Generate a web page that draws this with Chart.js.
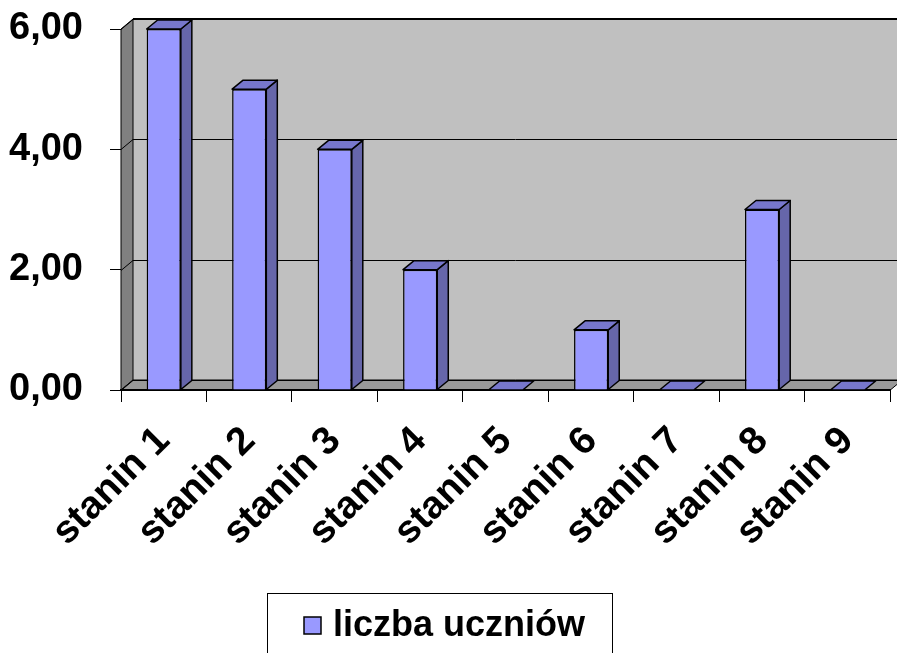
<!DOCTYPE html>
<html>
<head>
<meta charset="utf-8">
<script src="https://cdn.jsdelivr.net/npm/chart.js@4"></script>
<style>
  body { margin: 0; background: #fff; }
  canvas { display: block; }
</style>
</head>
<body>
<canvas id="chart_stanin" width="897" height="653"></canvas>
<script>
var categories = ['stanin 1', 'stanin 2', 'stanin 3', 'stanin 4', 'stanin 5', 'stanin 6', 'stanin 7', 'stanin 8', 'stanin 9'];
var liczbaUczniow = [6, 5, 4, 2, 0, 1, 0, 3, 0];
var seriesLabel = 'liczba uczniów';
var yMin = 0;
var yMax = 6;
var yStep = 2;

var FONT = '"Liberation Sans", Arial, sans-serif';
var DEPTH_X = 12, DEPTH_Y = -10;   // depth of walls
var BAR_DX = 11, BAR_DY = -9;      // depth of bars

// walls, floor and back grid lines (drawn before everything else)
var walls3d = {
	id: 'walls3d',
	beforeDraw: function (chart) {
		var ctx = chart.ctx;
		var a = chart.chartArea;
		var y = chart.scales.y;
		var L = a.left, R = a.right, T = a.top, B = a.bottom;

		ctx.save();
		ctx.fillStyle = '#fff';
		ctx.fillRect(0, 0, chart.width, chart.height);

		// back wall
		ctx.fillStyle = '#c0c0c0';
		ctx.fillRect(L + DEPTH_X, T + DEPTH_Y, R - L, B - T);
		ctx.strokeStyle = '#000';
		ctx.lineWidth = 1;

		// left side wall
		ctx.beginPath();
		ctx.moveTo(L, T);
		ctx.lineTo(L + DEPTH_X, T + DEPTH_Y);
		ctx.lineTo(L + DEPTH_X, B + DEPTH_Y);
		ctx.lineTo(L, B);
		ctx.closePath();
		ctx.fillStyle = '#808080';
		ctx.fill();
		ctx.stroke();

		// floor
		ctx.beginPath();
		ctx.moveTo(L, B);
		ctx.lineTo(L + DEPTH_X, B + DEPTH_Y);
		ctx.lineTo(R + DEPTH_X, B + DEPTH_Y);
		ctx.lineTo(R, B);
		ctx.closePath();
		ctx.fillStyle = '#999999';
		ctx.fill();
		ctx.stroke();

		// grid lines on the side wall and back wall
		ctx.beginPath();
		for (var v = yMin; v <= yMax; v += yStep) {
			var py = Math.round(y.getPixelForValue(v)) + 0.5;
			ctx.moveTo(L, py);
			ctx.lineTo(L + DEPTH_X, py + DEPTH_Y);
			ctx.lineTo(R + DEPTH_X, py + DEPTH_Y);
		}
		ctx.stroke();

		// top edge of back wall a bit heavier
		ctx.lineWidth = 2;
		ctx.beginPath();
		ctx.moveTo(L + DEPTH_X, T + DEPTH_Y);
		ctx.lineTo(R + DEPTH_X + 20, T + DEPTH_Y);
		ctx.stroke();
		ctx.restore();
	}
};

// top and side faces of each bar
var bars3d = {
	id: 'bars3d',
	afterDatasetsDraw: function (chart) {
		var ctx = chart.ctx;
		var meta = chart.getDatasetMeta(0);
		ctx.save();
		ctx.strokeStyle = '#000';
		ctx.lineWidth = 1.5;
		ctx.lineJoin = 'round';
		meta.data.forEach(function (bar) {
			var p = bar.getProps(['x', 'y', 'base', 'width'], true);
			var l = p.x - p.width / 2, r = p.x + p.width / 2;
			var top = p.y, base = p.base;

			if (base - top > 0.5) {
				ctx.beginPath();
				ctx.moveTo(r, top);
				ctx.lineTo(r + BAR_DX, top + BAR_DY);
				ctx.lineTo(r + BAR_DX, base + BAR_DY);
				ctx.lineTo(r, base);
				ctx.closePath();
				ctx.fillStyle = '#6666aa';
				ctx.fill();
				ctx.stroke();
			}

			ctx.beginPath();
			ctx.moveTo(l, top);
			ctx.lineTo(l + BAR_DX, top + BAR_DY);
			ctx.lineTo(r + BAR_DX, top + BAR_DY);
			ctx.lineTo(r, top);
			ctx.closePath();
			ctx.fillStyle = '#7777cc';
			ctx.fill();
			ctx.stroke();
		});
		ctx.restore();
	}
};

// boxed legend under the chart
var boxLegend = {
	id: 'boxLegend',
	afterDraw: function (chart) {
		var ctx = chart.ctx;
		var ds = chart.data.datasets[0];
		ctx.save();
		ctx.strokeStyle = '#000';
		ctx.lineWidth = 1;
		ctx.strokeRect(267.5, 593.5, 345, 80);

		ctx.fillStyle = ds.backgroundColor;
		ctx.fillRect(304, 617, 17, 17);
		ctx.lineWidth = 1.5;
		ctx.strokeRect(304, 617, 17, 17);

		ctx.fillStyle = '#000';
		ctx.font = 'bold 36px ' + FONT;
		ctx.textBaseline = 'alphabetic';
		ctx.fillText(ds.label, 333, 636);
		ctx.restore();
	}
};

new Chart('chart_stanin', {
	type: 'bar',
	data: {
		labels: categories,
		datasets: [
			{
				label: seriesLabel,
				data: liczbaUczniow,
				backgroundColor: '#9999ff',
				borderColor: '#000',
				borderWidth: 1.5,
				barPercentage: 0.4,
				categoryPercentage: 1
			}
		]
	},
	options: {
		responsive: false,
		animation: false,
		layout: { padding: { top: 29, right: 6, left: 0, bottom: 0 } },
		plugins: {
			legend: { display: false },
			tooltip: { enabled: false },
			title: { display: false }
		},
		scales: {
			x: {
				type: 'category',
				offset: true,
				afterFit: function (scale) { scale.height = 263; },
				grid: {
					offset: true,
					drawOnChartArea: false,
					tickLength: 12,
					color: '#000',
					lineWidth: 1
				},
				border: { display: true, color: '#000', width: 2 },
				ticks: {
					minRotation: 45,
					maxRotation: 45,
					autoSkip: false,
					padding: 16,
					color: '#000',
					font: { family: FONT, size: 39, weight: 'bold' }
				}
			},
			y: {
				min: yMin,
				max: yMax,
				afterFit: function (scale) {
					scale.width = 121;
					scale.paddingTop = 0;
					scale.paddingBottom = 0;
				},
				grid: {
					drawOnChartArea: false,
					tickLength: 11,
					color: '#000',
					lineWidth: 1
				},
				border: { display: false },
				ticks: {
					stepSize: yStep,
					padding: 27,
					color: '#000',
					font: { family: FONT, size: 38, weight: 'bold' },
					callback: function (value) {
						return value.toFixed(2).replace('.', ',');
					}
				}
			}
		}
	},
	plugins: [walls3d, bars3d, boxLegend]
});
</script>
</body>
</html>
